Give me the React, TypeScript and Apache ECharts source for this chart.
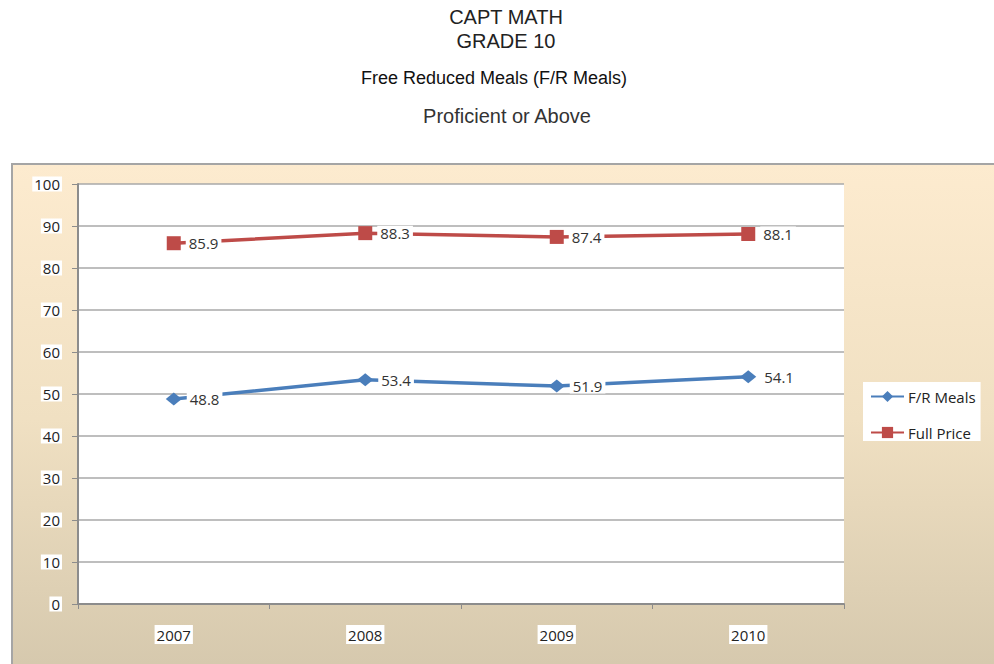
import React, { useEffect, useRef } from "react";
import * as echarts from "echarts";

const years = ["2007", "2008", "2009", "2010"];
const frMeals = [48.8, 53.4, 51.9, 54.1];
const fullPrice = [85.9, 88.3, 87.4, 88.1];
const titleLines = ["CAPT MATH", "GRADE 10"];
const subtitle1 = "Free Reduced Meals (F/R Meals)";
const subtitle2 = "Proficient or Above";

export default function App() {
  const ref = useRef<HTMLDivElement>(null);
  useEffect(() => {
    if (!ref.current) return;
    const chart = echarts.init(ref.current, null, { renderer: "svg" });
    const labelStyle = {
      show: true,
      position: "right" as const,
      distance: 5,
      color: "#333",
      fontFamily: "Open Sans",
      fontSize: 15,
      backgroundColor: "#fff",
      padding: [0, 3],
    };
    chart.setOption({
      animation: false,
      backgroundColor: "#fff",
      graphic: [
        {
          type: "rect",
          shape: { x: 12, y: 164, width: 990, height: 510 },
          style: {
            fill: new echarts.graphic.LinearGradient(0, 0, 0, 1, [
              { offset: 0, color: "#FDEBCF" },
              { offset: 0.5, color: "#F0E0C2" },
              { offset: 1, color: "#D5C8AD" },
            ]),
            stroke: "#A5A5A5",
            lineWidth: 2,
          },
          z: -10,
        },
        {
          type: "text",
          x: 506,
          y: 5,
          style: {
            text: titleLines.join("\n"),
            fontFamily: "Liberation Sans",
            fontSize: 20,
            lineHeight: 24,
            fill: "#222",
            align: "center",
          },
        },
        {
          type: "text",
          x: 494,
          y: 69,
          style: {
            text: subtitle1,
            fontFamily: "Liberation Sans",
            fontSize: 18,
            fill: "#111",
            align: "center",
          },
        },
        {
          type: "text",
          x: 507,
          y: 106,
          style: {
            text: subtitle2,
            fontFamily: "Liberation Sans",
            fontSize: 20,
            fill: "#333",
            align: "center",
          },
        },
      ],
      legend: {
        left: 863,
        top: 382,
        orient: "vertical",
        backgroundColor: "#fff",
        padding: [7, 5, 1, 7],
        itemGap: 21,
        itemWidth: 33,
        itemHeight: 14,
        textStyle: { fontFamily: "Open Sans", fontSize: 15, color: "#222", padding: [0, 0, 0, -1] },
        data: ["F/R Meals", "Full Price"],
      },
      grid: {
        left: 78,
        top: 184,
        width: 766,
        height: 420,
        show: true,
        backgroundColor: "#fff",
        borderWidth: 0,
      },
      xAxis: {
        type: "category",
        data: years,
        boundaryGap: true,
        axisLine: { lineStyle: { color: "#8C8C8C", width: 2 } },
        axisTick: { show: true, length: 5, lineStyle: { color: "#8C8C8C" } },
        axisLabel: {
          margin: 21,
          color: "#222",
          fontFamily: "Open Sans",
          fontSize: 15,
          backgroundColor: "#fff",
          padding: [2, 2],
        },
      },
      yAxis: {
        type: "value",
        min: 0,
        max: 100,
        interval: 10,
        axisLine: { show: true, lineStyle: { color: "#8C8C8C", width: 2 } },
        axisTick: { show: true, length: 6, lineStyle: { color: "#8C8C8C" } },
        splitLine: { lineStyle: { color: "#A8A8A8", width: 1.5 } },
        axisLabel: {
          margin: 16,
          color: "#222",
          fontFamily: "Open Sans",
          fontSize: 15,
          backgroundColor: "#fff",
          padding: [0, 2],
        },
      },
      series: [
        {
          name: "F/R Meals",
          type: "line",
          data: frMeals,
          symbol: "diamond",
          symbolSize: [16, 13],
          itemStyle: { color: "#4A7EBB" },
          lineStyle: { color: "#4A7EBB", width: 3.5 },
          label: labelStyle,
        },
        {
          name: "Full Price",
          type: "line",
          data: fullPrice,
          symbol: "rect",
          symbolSize: 14,
          itemStyle: { color: "#BE4B48" },
          lineStyle: { color: "#BE4B48", width: 3.5 },
          label: labelStyle,
        },
      ],
    });
    return () => chart.dispose();
  }, []);
  return (
    <div
      ref={ref}
      style={{ position: "absolute", left: 0, top: 0, width: 994, height: 664 }}
    />
  );
}
